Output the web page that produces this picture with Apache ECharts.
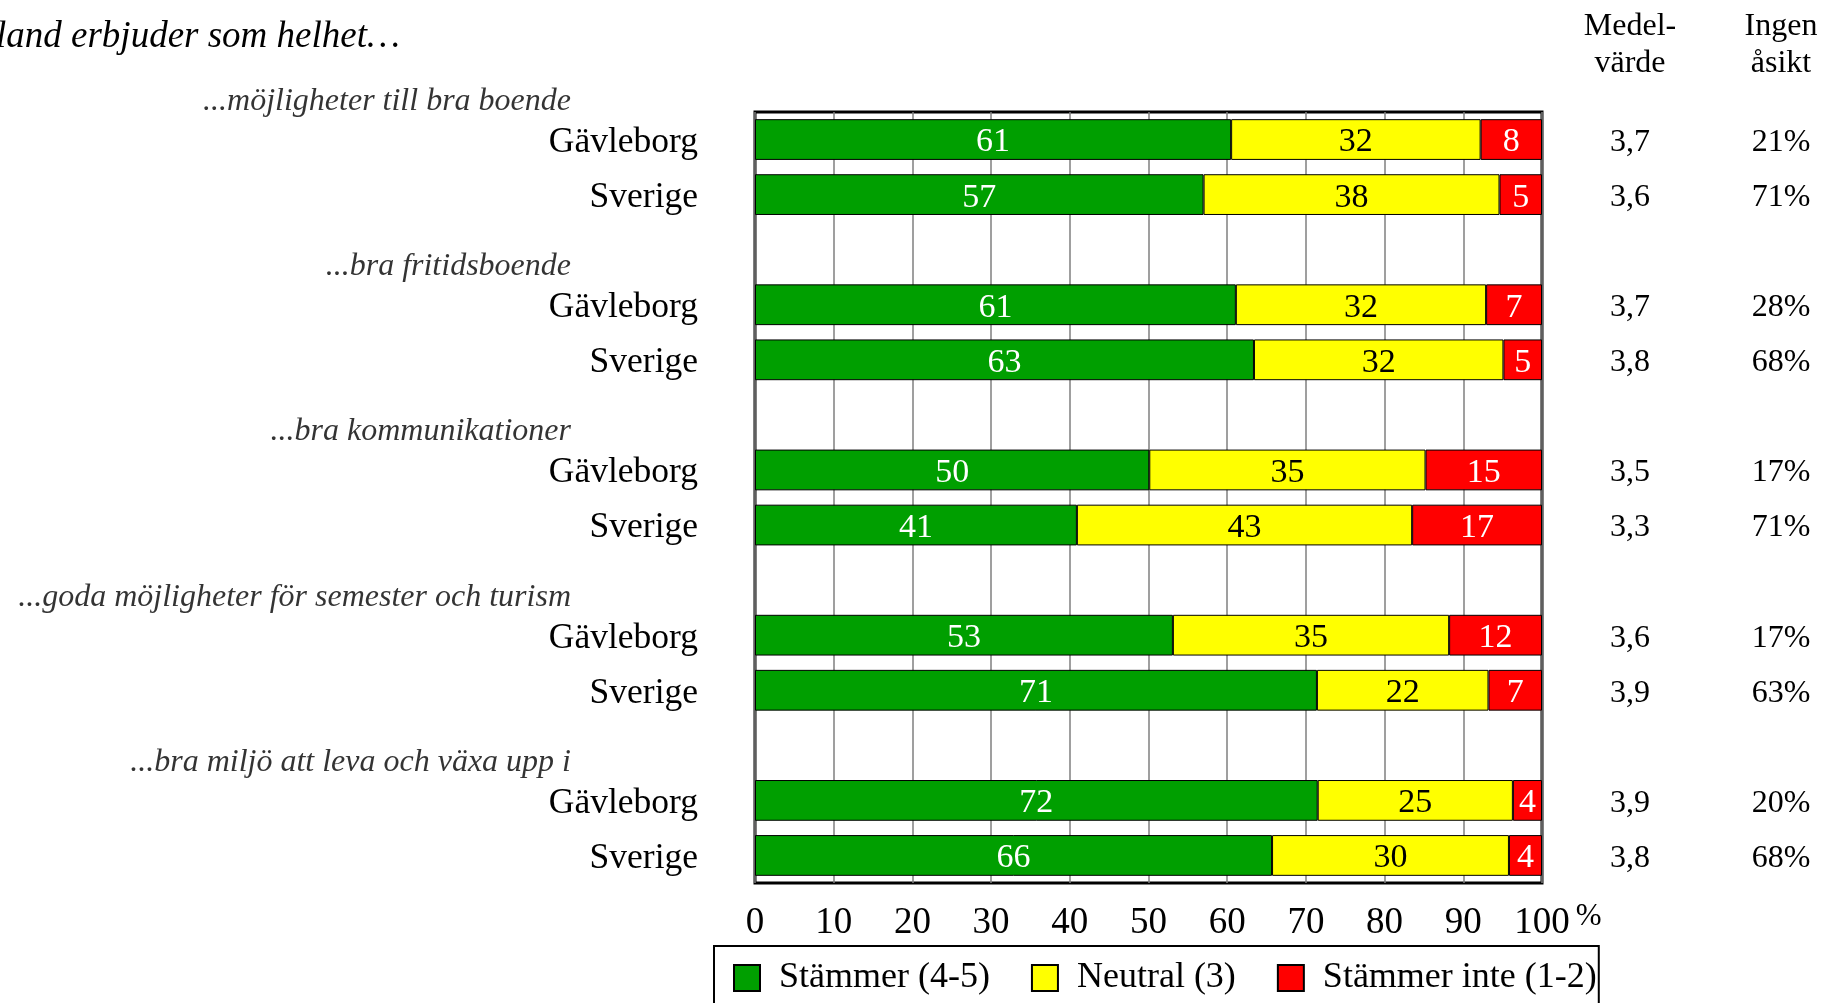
<!DOCTYPE html>
<html>
<head>
<meta charset="utf-8">
<script src="https://cdn.jsdelivr.net/npm/echarts@6/dist/echarts.min.js"></script>
<style>
html,body{margin:0;padding:0;background:#fff;}
#chart{width:1823px;height:1003px;}
</style>
</head>
<body>
<div id="chart"></div>
<script>
// ---- data ----
const groups = [
  '...möjligheter till bra boende',
  '...bra fritidsboende',
  '...bra kommunikationer',
  '...goda möjligheter för semester och turism',
  '...bra miljö att leva och växa upp i'
];
const rowNames = ['Gävleborg', 'Sverige'];
const seriesNames = ['Stämmer (4-5)', 'Neutral (3)', 'Stämmer inte (1-2)'];
// shares (%) per group, Gävleborg and Sverige rows
const stammerG = [60.5, 61.1, 50.1, 53.1, 71.5];
const stammerS = [57.0, 63.4, 40.9, 71.4, 65.7];
const neutralG = [31.7, 31.8, 35.1, 35.1, 24.8];
const neutralS = [37.6, 31.7, 42.6, 21.8, 30.1];
const inteG = [7.8, 7.1, 14.8, 11.8, 3.7];
const inteS = [5.4, 4.9, 16.5, 6.8, 4.2];
const medelG = ['3,7', '3,7', '3,5', '3,6', '3,9'];
const medelS = ['3,6', '3,8', '3,3', '3,9', '3,8'];
const ingenG = ['21%', '28%', '17%', '17%', '20%'];
const ingenS = ['71%', '68%', '71%', '63%', '68%'];
const titleText = 'land erbjuder som helhet…';

// ---- build category rows: G, S, blank, ... ----
const keys = [], rowLabel = [], medel = [], ingen = [];
const s1 = [], s2 = [], s3 = [], grpPts = [];
groups.forEach((g, i) => {
  keys.push('G' + i); rowLabel.push(rowNames[0]); medel.push(medelG[i]); ingen.push(ingenG[i]);
  s1.push(stammerG[i]); s2.push(neutralG[i]); s3.push(inteG[i]);
  grpPts.push({value: [0, 'G' + i], name: g});
  keys.push('S' + i); rowLabel.push(rowNames[1]); medel.push(medelS[i]); ingen.push(ingenS[i]);
  s1.push(stammerS[i]); s2.push(neutralS[i]); s3.push(inteS[i]);
  if (i < groups.length - 1) {
    keys.push('B' + i); rowLabel.push(''); medel.push(''); ingen.push('');
    s1.push(null); s2.push(null); s3.push(null);
  }
});

const FONT = 'Liberation Serif';
const chart = echarts.init(document.getElementById('chart'));

function barSeries(name, data, color, labelColor) {
  return {
    name: name, type: 'bar', stack: 'total', data: data,
    barCategoryGap: '26%',
    itemStyle: {color: color, borderColor: '#000', borderWidth: 1},
    label: {
      show: true, position: 'inside', color: labelColor,
      fontFamily: FONT, fontSize: 34, offset: [0, 3],
      formatter: p => p.value == null ? '' : String(Math.round(p.value))
    },
    emphasis: {disabled: true}
  };
}

chart.setOption({
  animation: false,
  backgroundColor: '#ffffff',
  textStyle: {fontFamily: FONT},
  grid: {
    left: 755, top: 112, width: 787, height: 771,
    show: true, borderColor: '#000', borderWidth: 3, backgroundColor: '#fff'
  },
  xAxis: {
    type: 'value', min: 0, max: 100, interval: 10,
    axisLine: {show: false}, axisTick: {show: false},
    splitLine: {show: true, lineStyle: {color: '#7f7f7f', width: 1.5}},
    axisLabel: {fontFamily: FONT, fontSize: 37, color: '#000', margin: 22},
    name: '%', nameLocation: 'end', nameGap: 31,
    nameTextStyle: {fontFamily: FONT, fontSize: 31, color: '#000', align: 'left', verticalAlign: 'top', padding: [18, 0, 0, 0]}
  },
  yAxis: [{
    type: 'category', data: keys, inverse: true,
    axisLine: {show: false}, axisTick: {show: false}, splitLine: {show: false},
    axisLabel: {
      margin: 57, padding: [6, 0, 0, 0],
      formatter: (v, i) => rowLabel[i] ? '{r|' + rowLabel[i] + '}' : '',
      rich: {
        r: {fontFamily: FONT, fontSize: 35.5, color: '#000'}
      }
    }
  }, {
    type: 'category', data: keys, inverse: true, position: 'right',
    axisLine: {show: false}, axisTick: {show: false}, splitLine: {show: false},
    axisLabel: {
      margin: 23, align: 'left', padding: [6, 0, 0, 0],
      formatter: (v, i) => medel[i] ? '{m|' + medel[i] + '}{n|' + ingen[i] + '}' : '',
      rich: {
        m: {fontFamily: FONT, fontSize: 32, color: '#000', width: 130, align: 'center'},
        n: {fontFamily: FONT, fontSize: 32, color: '#000', width: 172, align: 'center'}
      }
    }
  }],
  legend: {
    data: seriesNames,
    left: 714, top: 946, orient: 'horizontal',
    padding: [14, 2, 40, 19],
    borderColor: '#000', borderWidth: 2,
    itemWidth: 26, itemHeight: 26, itemGap: 41,
    icon: 'rect',
    textStyle: {fontFamily: FONT, fontSize: 36, color: '#000', padding: [0, 0, 0, 14]},
    selectedMode: false
  },
  graphic: [
    {type: 'text', left: -4, top: 19, style: {text: titleText, font: 'italic 37px "Liberation Serif"', fill: '#000'}},
    {type: 'text', x: 1630, y: 8, style: {text: 'Medel-\nvärde', font: '32px "Liberation Serif"', fill: '#000', textAlign: 'center', lineHeight: 37}},
    {type: 'text', x: 1781, y: 8, style: {text: 'Ingen\nåsikt', font: '32px "Liberation Serif"', fill: '#000', textAlign: 'center', lineHeight: 37}}
  ],
  series: [
    barSeries(seriesNames[0], s1, '#009f00', '#fff'),
    barSeries(seriesNames[1], s2, '#ffff00', '#000'),
    barSeries(seriesNames[2], s3, '#ff0000', '#fff'),
    {
      type: 'scatter', data: grpPts, symbolSize: 1, clip: false, silent: true,
      itemStyle: {color: 'rgba(0,0,0,0)'},
      label: {
        show: true, position: 'inside', align: 'right', verticalAlign: 'middle',
        offset: [-184, -38], fontFamily: FONT, fontStyle: 'italic', fontSize: 32, color: '#000',
        formatter: p => p.name
      },
      emphasis: {disabled: true}
    }
  ]
});
</script>
</body>
</html>
